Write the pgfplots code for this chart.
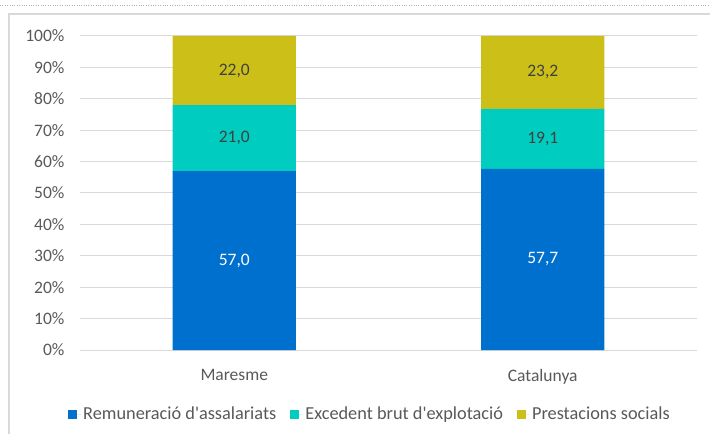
\documentclass[border=0pt]{standalone}
\usepackage{fontspec}
\setmainfont{Carlito}
\usepackage{pgfplots}
\usepackage{pgfplotstable}
\pgfplotsset{compat=1.18}
\definecolor{cblue}{RGB}{0,112,206}
\definecolor{ccyan}{RGB}{0,204,192}
\definecolor{cyel}{RGB}{204,192,24}
\definecolor{lbl}{RGB}{64,64,64}
\definecolor{tickc}{RGB}{89,89,89}
\definecolor{gridc}{RGB}{217,217,217}
\pgfplotstableread{
x rem exc pre
0 57.0 21.0 22.0
1 57.7 19.1 23.2
}\data
\newcommand{\cfont}{\fontsize{17.5bp}{20bp}\selectfont}
\newcommand{\lfont}{\fontsize{18.3bp}{20bp}\selectfont}
\begin{document}
\begin{tikzpicture}
\useasboundingbox (0bp,0bp) rectangle (710bp,434bp);
\draw[gray!60, dotted] (0bp,429bp) -- (710bp,429bp);
\draw[gridc, line width=1.2bp] (9bp,0bp) -- (9bp,420bp) -- (711bp,420bp);
\begin{axis}[
  at={(80bp,84bp)}, anchor=south west,
  width=617bp, height=314bp, scale only axis,
  ybar stacked, bar width=0.4,
  xmin=-0.5, xmax=1.5, ymin=0, ymax=100,
  xtick={0,1}, xticklabels={Maresme,Catalunya},
  ytick={0,10,...,100},
  yticklabel={\pgfmathprintnumber{\tick}\%},
  /pgf/number format/assume math mode=true,
  axis line style={draw=none}, major tick length=0pt,
  ymajorgrids, grid style={gridc, line width=1bp},
  tick label style={font=\cfont, text=tickc},
  yticklabel style={xshift=-12bp},
  xticklabel style={yshift=-16bp},
  nodes near coords,
  nodes near coords style={anchor=center, font=\cfont, text=lbl,
    /pgf/number format/fixed, /pgf/number format/fixed zerofill,
    /pgf/number format/precision=1, /pgf/number format/use comma,
    /pgf/number format/assume math mode=true},
  point meta=explicit,
  legend columns=3,
  legend style={at={(0.470,-0.205) }, anchor=center, draw=none, font=\lfont, text=tickc,
    /tikz/every even column/.append style={column sep=12bp}},
  legend image code/.code={\fill[#1] (0bp,-4.25bp) rectangle (8.5bp,4.25bp);
    \path (0bp,0bp) -- (13bp,0bp);},
]
\addplot[fill=cblue, draw=none,
  every node near coord/.append style={text=white}] table[x=x, y=rem, meta=rem] {\data};
\addplot[fill=ccyan, draw=none] table[x=x, y=exc, meta=exc] {\data};
\addplot[fill=cyel, draw=none] table[x=x, y=pre, meta=pre] {\data};
\legend{Remuneració d\textquotesingle assalariats, Excedent brut d\textquotesingle explotació, Prestacions socials}
\end{axis}
\end{tikzpicture}
\end{document}
